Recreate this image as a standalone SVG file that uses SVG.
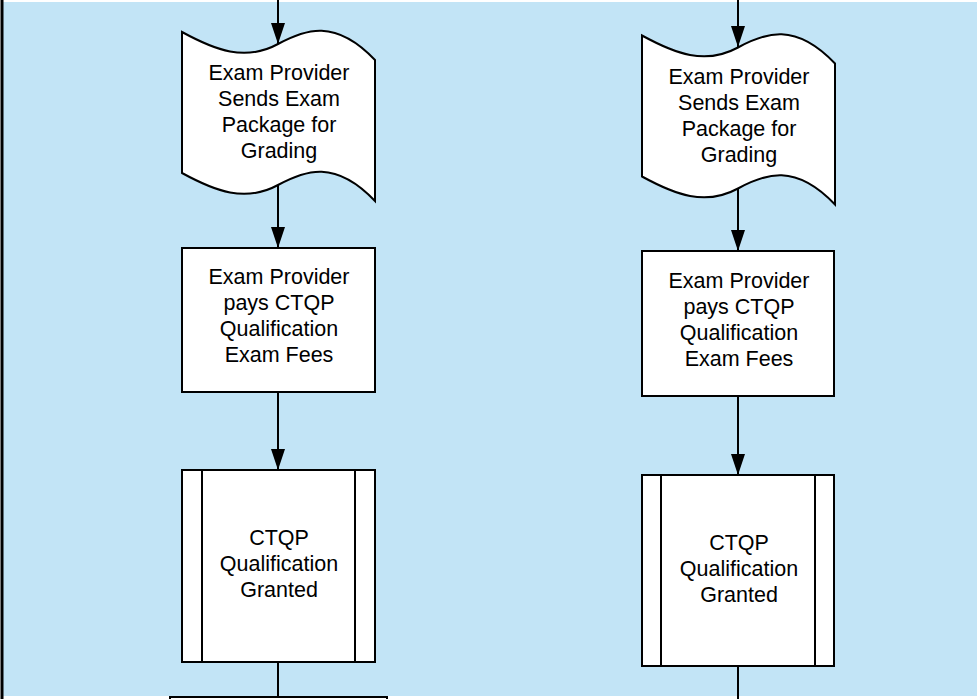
<svg xmlns="http://www.w3.org/2000/svg" width="977" height="699" viewBox="0 0 977 699">
<style>
.shape{fill:#ffffff;stroke:#000000;stroke-width:2;}
.line{fill:none;stroke:#000000;stroke-width:2;}
.lbl{font-family:"Liberation Sans",Arial,sans-serif;font-size:21.5px;fill:#000000;text-anchor:middle;}
</style>
<defs>
<marker id="ah" markerWidth="21" markerHeight="14" refX="21" refY="7" orient="auto" markerUnits="userSpaceOnUse">
<path d="M0,0 L21,7 L0,14 Z" fill="#000000"/>
</marker>
</defs>
<rect x="0" y="0" width="977" height="699" fill="#ffffff"/>
<rect x="3" y="2" width="974" height="694" fill="#c2e4f6"/>
<line x1="2" y1="0" x2="2" y2="699" stroke="#000000" stroke-width="3"/>

<g id="connectors">
<path class="line" d="M278,0 L278,44" marker-end="url(#ah)"/>
<path class="line" d="M278,185 L278,248" marker-end="url(#ah)"/>
<path class="line" d="M278,392 L278,470" marker-end="url(#ah)"/>
<path class="line" d="M278,662 L278,697"/>
<path class="line" d="M738,0 L738,47" marker-end="url(#ah)"/>
<path class="line" d="M738,189 L738,251" marker-end="url(#ah)"/>
<path class="line" d="M738,396 L738,475" marker-end="url(#ah)"/>
<path class="line" d="M738,666 L738,699"/>
</g>

<g id="doc-left">
<path class="shape" d="M182,32 C215,50 245,62 278,44 C305,29.3 335,18 375,60 L375,201 C335,159 305,170.3 278,185 C245,203 215,191 182,173 Z"/>
<text class="lbl" x="279" y="80">Exam Provider</text>
<text class="lbl" x="279" y="106">Sends Exam</text>
<text class="lbl" x="279" y="132">Package for</text>
<text class="lbl" x="279" y="158">Grading</text>
</g>

<g id="pay-left">
<rect class="shape" x="182" y="248" width="193" height="144"/>
<text class="lbl" x="279" y="284">Exam Provider</text>
<text class="lbl" x="279" y="310">pays CTQP</text>
<text class="lbl" x="279" y="336">Qualification</text>
<text class="lbl" x="279" y="362">Exam Fees</text>
</g>

<g id="granted-left">
<rect class="shape" x="182" y="470" width="193" height="192"/>
<line class="line" x1="202" y1="470" x2="202" y2="662"/>
<line class="line" x1="355" y1="470" x2="355" y2="662"/>
<text class="lbl" x="279" y="545">CTQP</text>
<text class="lbl" x="279" y="571">Qualification</text>
<text class="lbl" x="279" y="597">Granted</text>
</g>

<g id="next-left">
<rect class="shape" x="170" y="697" width="217" height="20"/>
</g>

<g id="doc-right">
<path class="shape" transform="translate(460 3.5)" d="M182,32 C215,50 245,62 278,44 C305,29.3 335,18 375,60 L375,201 C335,159 305,170.3 278,185 C245,203 215,191 182,173 Z"/>
<text class="lbl" x="739" y="84">Exam Provider</text>
<text class="lbl" x="739" y="110">Sends Exam</text>
<text class="lbl" x="739" y="136">Package for</text>
<text class="lbl" x="739" y="162">Grading</text>
</g>

<g id="pay-right">
<rect class="shape" x="642" y="251" width="192" height="145"/>
<text class="lbl" x="739" y="288">Exam Provider</text>
<text class="lbl" x="739" y="314">pays CTQP</text>
<text class="lbl" x="739" y="340">Qualification</text>
<text class="lbl" x="739" y="366">Exam Fees</text>
</g>

<g id="granted-right">
<rect class="shape" x="642" y="475" width="192" height="191"/>
<line class="line" x1="661" y1="475" x2="661" y2="666"/>
<line class="line" x1="815" y1="475" x2="815" y2="666"/>
<text class="lbl" x="739" y="550">CTQP</text>
<text class="lbl" x="739" y="576">Qualification</text>
<text class="lbl" x="739" y="602">Granted</text>
</g>
</svg>
